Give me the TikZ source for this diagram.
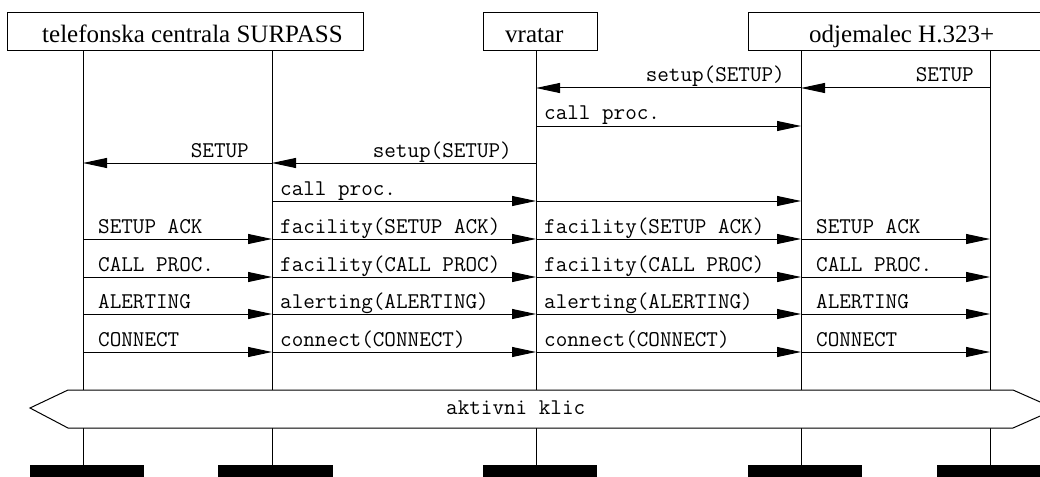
\documentclass[tikz,border=0pt]{standalone}
\usepackage{fontspec}
\setmainfont{Liberation Serif}
\usetikzlibrary{arrows.meta,calc}
\tikzset{
  hdrbox/.style={draw=black, line width=1pt, fill=white, inner sep=0pt, anchor=north west},
  hdrtext/.style={inner sep=0pt, anchor=base west, font=\fontsize{25}{30}\selectfont},
  lifeline/.style={draw=black, line width=1pt},
  msg/.style={draw=black, line width=1pt, -{Triangle[length=24pt, width=10pt]}},
  lbl/.style={inner sep=0pt, font=\ttfamily\fontsize{22.5}{26}\selectfont},
  lblr/.style={lbl, anchor=base west},
  lbll/.style={lbl, anchor=base east},
  endblock/.style={fill=black, draw=none},
}
\begin{document}
\begin{tikzpicture}[x=1pt, y=-1pt]
\useasboundingbox (0,0) rectangle (1040,476);
\clip (0,0) rectangle (1040,476);
% lifeline coordinates
\coordinate (l1) at (83,50);
\coordinate (l2) at (272,50);
\coordinate (l3) at (536,50);
\coordinate (l4) at (801,50);
\coordinate (l5) at (990,50);
% rows
\coordinate (r1) at (0,88);
\coordinate (r2) at (0,126);
\coordinate (r3) at (0,163);
\coordinate (r4) at (0,201);
\coordinate (r5) at (0,239);
\coordinate (r6) at (0,277);
\coordinate (r7) at (0,314);
\coordinate (r8) at (0,352);
\coordinate (rb) at (0,465);
% lifelines
\foreach \i in {1,...,5} {\draw[lifeline] (l\i) -- (l\i |- rb);}
% header boxes
\node[hdrbox, minimum width=356pt, minimum height=38pt] (h1) at (7,12) {};
\node[hdrtext] (t1) at (42,43) {telefonska centrala SURPASS};
\node[hdrbox, minimum width=114pt, minimum height=38pt] (h2) at (483,12) {};
\node[hdrtext] (t2) at (505,43) {vratar};
\node[hdrbox, minimum width=308pt, minimum height=38pt] (h3) at (748,12) {};
\node[hdrtext] (t3) at (809,43) {odjemalec H.323+};
% row 1
\draw[msg] (l5 |- r1) -- (l4 |- r1);
\draw[msg] (l4 |- r1) -- (l3 |- r1);
\node[lbll] at ($(l5 |- r1)+(-16,-6)$) {SETUP};
\node[lbll] at ($(l4 |- r1)+(-16,-6)$) {setup(SETUP)};
% row 2
\draw[msg] (l3 |- r2) -- (l4 |- r2);
\node[lblr] at ($(l3 |- r2)+(8,-6)$) {call proc.};
% row 3
\draw[msg] (l3 |- r3) -- (l2 |- r3);
\draw[msg] (l2 |- r3) -- (l1 |- r3);
\node[lbll] at ($(l3 |- r3)+(-24,-6)$) {setup(SETUP)};
\node[lbll] at ($(l2 |- r3)+(-23,-6)$) {SETUP};
% row 4
\draw[msg] (l2 |- r4) -- (l3 |- r4);
\draw[msg] (l3 |- r4) -- (l4 |- r4);
\node[lblr] at ($(l2 |- r4)+(8,-6)$) {call proc.};
% rows 5-8
\foreach \r/\a/\b in {r5/SETUP ACK/facility(SETUP ACK),
                      r6/CALL PROC./facility(CALL PROC),
                      r7/ALERTING/alerting(ALERTING),
                      r8/CONNECT/connect(CONNECT)} {
  \draw[msg] (l1 |- \r) -- (l2 |- \r);
  \draw[msg] (l2 |- \r) -- (l3 |- \r);
  \draw[msg] (l3 |- \r) -- (l4 |- \r);
  \draw[msg] (l4 |- \r) -- (l5 |- \r);
  \node[lblr] at ($(l1 |- \r)+(15,-6)$) {\a};
  \node[lblr] at ($(l2 |- \r)+(8,-6)$) {\b};
  \node[lblr] at ($(l3 |- \r)+(8,-6)$) {\b};
  \node[lblr] at ($(l4 |- \r)+(15,-6)$) {\a};
}
% active call band
\draw[line width=1pt, fill=white] (30,408) -- (68,390) -- (1013,390) -- (1056,409) -- (1013,428) -- (68,428) -- cycle;
\node[lbl, anchor=base west] (ak) at (446,414) {aktivni klic};
% end blocks
\fill[endblock] (30,465) rectangle (144,480);
\fill[endblock] (218,465) rectangle (333,480);
\fill[endblock] (483,465) rectangle (597,480);
\fill[endblock] (748,465) rectangle (862,480);
\fill[endblock] (937,465) rectangle (1051,480);
\end{tikzpicture}
\end{document}
